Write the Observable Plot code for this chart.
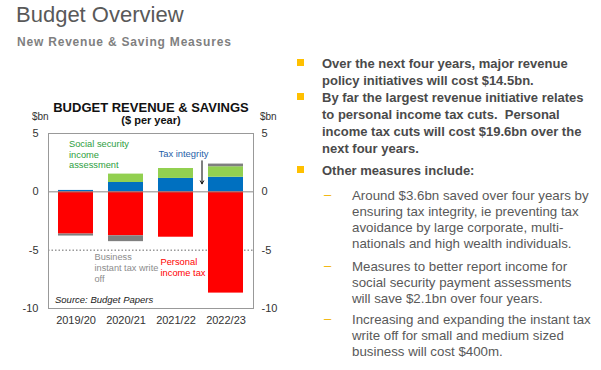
<!DOCTYPE html>
<html>
<head>
<meta charset="utf-8">
<script src="https://cdn.jsdelivr.net/npm/d3@7"></script>
<script src="https://cdn.jsdelivr.net/npm/@observablehq/plot@0.6"></script>
<style>
  html, body { margin: 0; padding: 0; background: #fff; }
  body { width: 601px; height: 370px; position: relative; overflow: hidden; font-family: "Liberation Sans", Arial, sans-serif; }
  .abs { position: absolute; white-space: nowrap; }
  #title { left: 16px; top: 2px; font-size: 22px; color: #595959; }
  #subtitle { left: 17px; top: 35px; font-size: 12px; font-weight: bold; color: #7f7f7f; letter-spacing: 0.8px; }
  #ctitle { left: 0; width: 302px; top: 100px; text-align: center; font-size: 13px; font-weight: bold; color: #111; }
  #csub { left: 0; width: 302px; top: 114px; text-align: center; font-size: 11px; font-weight: bold; color: #111; }
  .bn { top: 111px; font-size: 10px; color: #333; }
  #chart { position: absolute; left: 0; top: 120px; }
  .b1 { position: absolute; left: 322px; font-size: 13px; font-weight: bold; color: #4a4a4a; line-height: 17px; white-space: nowrap; }
  .sq { position: absolute; left: 297px; width: 7px; height: 7px; background: #FFC000; }
  .b2 { position: absolute; left: 352px; font-size: 13.3px; color: #595959; line-height: 16px; white-space: nowrap; }
  .dash { position: absolute; left: 324px; font-size: 13px; line-height: 16px; color: #F2B400; }
</style>
</head>
<body>
<div id="title" class="abs">Budget Overview</div>
<div id="subtitle" class="abs">New Revenue &amp; Saving Measures</div>
<div id="ctitle" class="abs">BUDGET REVENUE &amp; SAVINGS</div>
<div id="csub" class="abs">($ per year)</div>
<div class="abs bn" style="left:32px">$bn</div>
<div class="abs bn" style="left:260px">$bn</div>
<div id="chart"></div>

<div class="sq" style="top:59px"></div>
<div class="b1" style="top:55px">Over the next four years, major revenue<br>policy initiatives will cost $14.5bn.</div>
<div class="sq" style="top:93px"></div>
<div class="b1" style="top:89px">By far the largest revenue initiative relates<br>to personal income tax cuts.&nbsp; Personal<br>income tax cuts will cost $19.6bn over the<br>next four years.</div>
<div class="sq" style="top:166px"></div>
<div class="b1" style="top:162px">Other measures include:</div>

<div class="dash" style="top:187px">–</div>
<div class="b2" style="top:188px">Around $3.6bn saved over four years by<br>ensuring tax integrity, ie preventing tax<br>avoidance by large corporate, multi-<br>nationals and high wealth individuals.</div>
<div class="dash" style="top:258px">–</div>
<div class="b2" style="top:259px">Measures to better report income for<br>social security payment assessments<br>will save $2.1bn over four years.</div>
<div class="dash" style="top:311px">–</div>
<div class="b2" style="top:312px">Increasing and expanding the instant tax<br>write off for small and medium sized<br>business will cost $400m.</div>

<script>
// ---- data ----
const years = ["2019/20", "2020/21", "2021/22", "2022/23"];
const taxIntegrity = [0.12, 0.80, 1.15, 1.25];
const socialSecurity = [0.00, 0.72, 0.85, 0.90];
const personalIncomeTax = [-3.62, -3.77, -3.89, -8.68];
const businessWriteOff = [-0.17, -0.50, 0.00, 0.23];
const seriesNames = ["Tax integrity", "Social security income assessment", "Personal income tax", "Business instant tax write off"];
const seriesColors = ["#0070C0", "#92D050", "#FF0000", "#7F7F7F"];
const yTicks = [5, 0, -5, -10];

const seriesValues = [taxIntegrity, socialSecurity, personalIncomeTax, businessWriteOff];
const rows = [];
seriesNames.forEach((s, si) => years.forEach((yr, i) => rows.push({year: yr, series: s, value: seriesValues[si][i]})));

const font = "Liberation Sans, Arial, sans-serif";
const fmt = d => d < 0 ? "-" + Math.abs(d) : d;
const chart = Plot.plot({
  width: 290,
  height: 218,
  marginLeft: 48,
  marginRight: 37,
  marginTop: 13,
  marginBottom: 30,
  style: {fontFamily: font, fontSize: "11px", background: "transparent", color: "#333", overflow: "visible"},
  x: {domain: years, paddingInner: 0.31, paddingOuter: 0.17, label: null},
  y: {domain: [-10, 5], label: null},
  color: {domain: seriesNames, range: seriesColors},
  marks: [
    Plot.ruleY([-5], {stroke: "#666", strokeDasharray: "1.5,2"}),
    Plot.barY(rows, {x: "year", y: "value", fill: "series", order: seriesNames}),
    Plot.ruleY([0], {stroke: "#888", strokeWidth: 1}),
    Plot.frame({stroke: "#999"}),
    Plot.axisY({anchor: "left", ticks: yTicks, tickSize: 0, tickPadding: 10, tickFormat: fmt, label: null}),
    Plot.axisY({anchor: "right", ticks: yTicks, tickSize: 0, tickPadding: 8, tickFormat: fmt, label: null}),
    Plot.axisX({tickSize: 0, tickPadding: 8, label: null}),
    Plot.text(["Social security\nincome\nassessment"], {x: () => years[0], y: () => 4.55, text: d => d, textAnchor: "start", lineAnchor: "top", dx: -7, fill: "#2E9E3E", fontSize: 9.3, lineHeight: 1.18}),
    Plot.text(["Tax integrity"], {x: () => years[2], y: () => 3.26, text: d => d, textAnchor: "start", dx: -17.5, fill: "#1F5FA8", fontSize: 9.4}),
    Plot.arrow([0], {x1: () => years[3], x2: () => years[3], y1: () => 2.66, y2: () => 0.69, dx: -24, stroke: "#000", strokeWidth: 1, headLength: 5}),
    Plot.text(["Business\ninstant tax write\noff"], {x: () => years[1], y: () => -5.2, text: d => d, textAnchor: "start", lineAnchor: "top", dx: -31.5, fill: "#8C8C8C", fontSize: 9.2, lineHeight: 1.2}),
    Plot.text(["Personal\nincome tax"], {x: () => years[2], y: () => -5.55, text: d => d, textAnchor: "start", lineAnchor: "top", dx: -15.5, fill: "#FF0000", fontSize: 9.3, lineHeight: 1.2}),
    Plot.text(["Source: Budget Papers"], {x: () => years[0], y: () => -9.25, text: d => d, textAnchor: "start", dx: -21, fill: "#222", fontSize: 9.5, fontStyle: "italic"})
  ]
});
document.getElementById("chart").appendChild(chart);
</script>
</body>
</html>
